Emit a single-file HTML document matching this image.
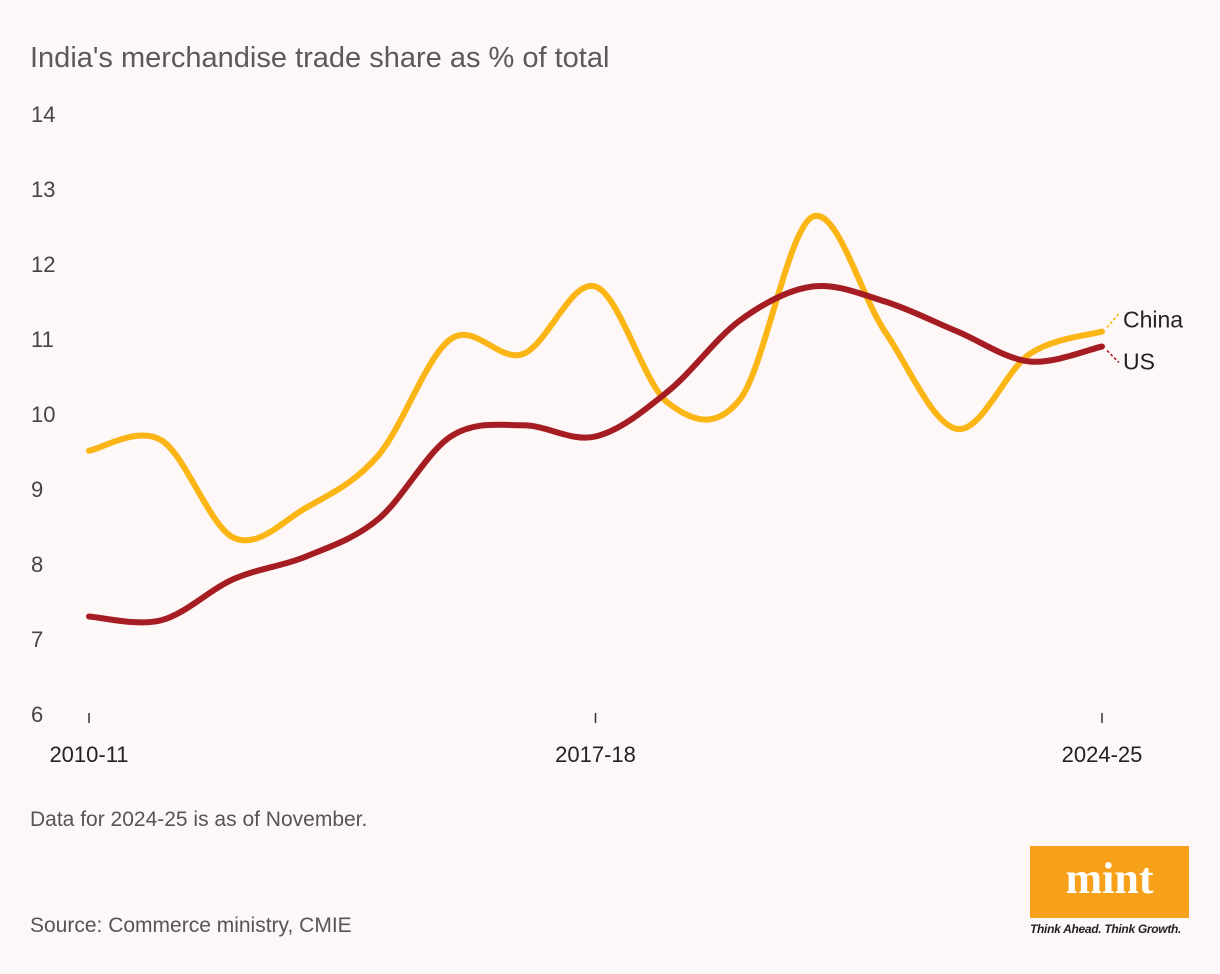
<!DOCTYPE html>
<html><head><meta charset="utf-8"><style>
body{margin:0;background:#fdf8f7;font-family:"Liberation Sans",sans-serif;}
#wrap{position:relative;width:1220px;height:974px;overflow:hidden;background:#fdf8f7;}
.t{position:absolute;color:#555;}
</style></head><body>
<div id="wrap">
<div class="t" style="left:30px;top:42px;font-size:29px;color:#5a5a5a;">India's merchandise trade share as % of total</div>
<svg id="chart" width="1220" height="974" style="position:absolute;left:0;top:0"></svg>
<div class="t" style="left:30px;top:808px;font-size:21px;">Data for 2024-25 is as of November.</div>
<div class="t" style="left:30px;top:914px;font-size:21px;">Source: Commerce ministry, CMIE</div>
<div style="position:absolute;left:1030px;top:846px;width:159px;height:72px;background:#f7a11a;color:#fff;font-family:'Liberation Serif',serif;font-weight:bold;font-size:44px;text-align:center;line-height:66px;">mint</div>
<div class="t" style="left:1030px;top:922px;font-size:12px;font-style:italic;font-weight:bold;color:#222;letter-spacing:-0.3px;">Think Ahead. Think Growth.</div>
</div>
<script>
const years=['2010-11','2011-12','2012-13','2013-14','2014-15','2015-16','2016-17','2017-18','2018-19','2019-20','2020-21','2021-22','2022-23','2023-24','2024-25'];
const china=[9.51,9.65,8.35,8.75,9.45,11.0,10.8,11.7,10.15,10.2,12.63,11.1,9.8,10.8,11.1];
const us=[7.3,7.25,7.8,8.1,8.6,9.7,9.85,9.7,10.3,11.25,11.7,11.5,11.1,10.7,10.9];
const yTicks=[6,7,8,9,10,11,12,13,14];
const xTickLabels=['2010-11','2017-18','2024-25'];
const NS='http://www.w3.org/2000/svg';
const svg=document.getElementById('chart');
const x=i=>89+i*(1102-89)/(years.length-1);
const y=v=>714-(v-6)*75;
function mk(t,a){const e=document.createElementNS(NS,t);for(const k in a)e.setAttribute(k,a[k]);svg.appendChild(e);return e;}
yTicks.forEach(v=>{const e=mk('text',{x:31,y:y(v)+8,'font-size':22,fill:'#444'});e.textContent=v;

});
xTickLabels.forEach(l=>{const i=years.indexOf(l);const ln=mk('line',{x1:x(i),x2:x(i),y1:713,y2:723,stroke:'#333','stroke-width':1.5});


const e=mk('text',{x:x(i),y:762,'font-size':22,fill:'#222','text-anchor':'middle'});e.textContent=l;

});
function path(vals){const p=vals.map((v,i)=>[x(i),y(v)]);let d='M'+p[0][0]+','+p[0][1];
for(let i=0;i<p.length-1;i++){const p0=p[i-1]||p[i],p1=p[i],p2=p[i+1],p3=p[i+2]||p2;
d+=' C'+(p1[0]+(p2[0]-p0[0])/6)+','+(p1[1]+(p2[1]-p0[1])/6)+' '+(p2[0]-(p3[0]-p1[0])/6)+','+(p2[1]-(p3[1]-p1[1])/6)+' '+p2[0]+','+p2[1];}return d;}
const c=mk('path',{d:path(china),fill:'none',stroke:'#fbb515','stroke-width':6,'stroke-linecap':'round'});


const u=mk('path',{d:path(us),fill:'none',stroke:'#a51d22','stroke-width':6,'stroke-linecap':'round'});


const L=years.length-1;
const l1=mk('line',{x1:x(L)+5,y1:y(china[L])-4,x2:x(L)+17,y2:y(china[L])-18,stroke:'#fbb515','stroke-width':1.5,'stroke-dasharray':'3,2'});


const t1=mk('text',{x:x(L)+21,y:y(china[L])-4,'font-size':23,fill:'#222'});t1.textContent='China';


const l2=mk('line',{x1:x(L)+5,y1:y(us[L])+4,x2:x(L)+17,y2:y(us[L])+16,stroke:'#a51d22','stroke-width':1.5,'stroke-dasharray':'3,2'});


const t2=mk('text',{x:x(L)+21,y:y(us[L])+23,'font-size':23,fill:'#222'});t2.textContent='US';


</script>
</body></html>
